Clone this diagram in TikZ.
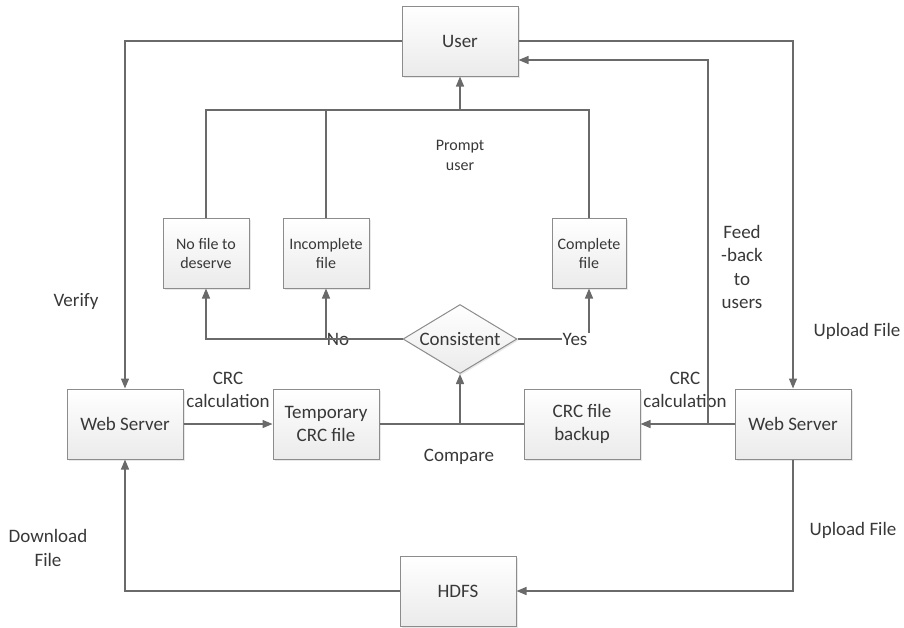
\documentclass[tikz,border=0pt]{standalone}
\usepackage{fontspec}
\setmainfont{Carlito}
\usepackage{xcolor}
\usepackage{tikz}
\usetikzlibrary{shapes.geometric, arrows.meta, positioning, calc, shadows}

\definecolor{linegray}{HTML}{6A6A6A}
\definecolor{boxgray}{HTML}{8C8C8C}
\definecolor{txtgray}{HTML}{383838}

\begin{document}
\begin{tikzpicture}[x=1pt, y=-1pt, >={Triangle[length=10pt,width=8pt]}, text=txtgray, font=\fontsize{19}{23.5}\selectfont]
  \tikzstyle{block} = [rectangle, draw=boxgray, line width=1pt, top color=white, bottom color=gray!16, minimum width=116pt, minimum height=70pt, align=center, drop shadow={shadow xshift=1.5pt, shadow yshift=-1.5pt, fill=gray!35}]
  \tikzstyle{smallblock} = [block, minimum width=86pt, font=\fontsize{16}{19}\selectfont]
  \tikzstyle{decision} = [diamond, draw=boxgray, line width=1pt, top color=white, bottom color=gray!16, aspect=1.65, inner sep=0pt, minimum width=114pt, minimum height=69pt, drop shadow={shadow xshift=1.5pt, shadow yshift=-1.5pt, fill=gray!35}]
  \tikzstyle{conn} = [draw=linegray, line width=1.4pt]
  \useasboundingbox (0,0) rectangle (904,627);

  % boxes
  \node[block] (User) at (460,41) {User};
  \node[smallblock] (NoFile) at (206,253) {No file to\\deserve};
  \node[smallblock] (Incomplete) at (326,253) {Incomplete\\file};
  \node[smallblock, minimum width=74pt] (Complete) at (589,253) {Complete\\file};
  \node[decision] (Consistent) at (460,339) {Consistent};
  \node[block] (WebL) at (125,424) {Web Server};
  \node[block, minimum width=106pt] (TempCRC) at (326,424) {Temporary\\CRC file};
  \node[block] (Backup) at (582,424) {CRC file\\backup};
  \node[block] (WebR) at (793,424) {Web Server};
  \node[block] (HDFS) at (458,591) {HDFS};

  % junctions
  \coordinate (PromptJoin) at (460,110);
  \coordinate (CmpJoin) at (460,424);
  \coordinate (NoJoin) at (326,339);
  \coordinate (FeedJoin) at (708,424);
  \coordinate (FeedTop) at (708,60);

  % labels
  \node (Verify) at (76,301) {Verify};
  \node (UpTop) at (857,331) {Upload File};
  \node (UpBot) at (853,530) {Upload File};
  \node[align=center] (Download) at (48,548) {Download\\File};
  \node[align=center] (Feed) at (742,267) {Feed\\-back\\to\\users};
  \node[align=center] (CrcL) at (228,390) {CRC\\calculation};
  \node[align=center] (CrcR) at (685,390) {CRC\\calculation};
  \node (Compare) at (459,457) {Compare};
  \node[align=center, font=\fontsize{16}{20}\selectfont] (Prompt) at (460,155) {Prompt\\user};
  \node[inner sep=0pt] (No) at (338,339) {No};
  \node[inner sep=0pt] (Yes) at (575,339) {Yes};

  % connectors
  \draw[conn,->] (User.west) -| (WebL.north);
  \draw[conn,->] (User.east) -| (WebR.north);
  \draw[conn,->] (WebR.west) -- (Backup.east);
  \draw[conn,->] (FeedJoin) -- (FeedTop) -- (User.east |- FeedTop);
  \draw[conn,->] (WebL.east) -- (TempCRC.west);
  \draw[conn] (TempCRC.east) -- (Backup.west);
  \draw[conn,->] (CmpJoin) -- (Consistent.south);
  \draw[conn,->] (Consistent.west) -| (NoFile.south);
  \draw[conn,->] (NoJoin) -- (Incomplete.south);
  \draw[conn] (Consistent.east) -- (Yes.west);
  \draw[conn,->] (Complete.south |- Yes.north) -- (Complete.south);
  \draw[conn] (NoFile.north) |- (PromptJoin) -| (Complete.north);
  \draw[conn] (Incomplete.north) -- (Incomplete.north |- PromptJoin);
  \draw[conn,->] (PromptJoin) -- (User.south);
  \draw[conn,->] (WebR.south) |- (HDFS.east);
  \draw[conn,->] (HDFS.west) -| (WebL.south);
\end{tikzpicture}
\end{document}
